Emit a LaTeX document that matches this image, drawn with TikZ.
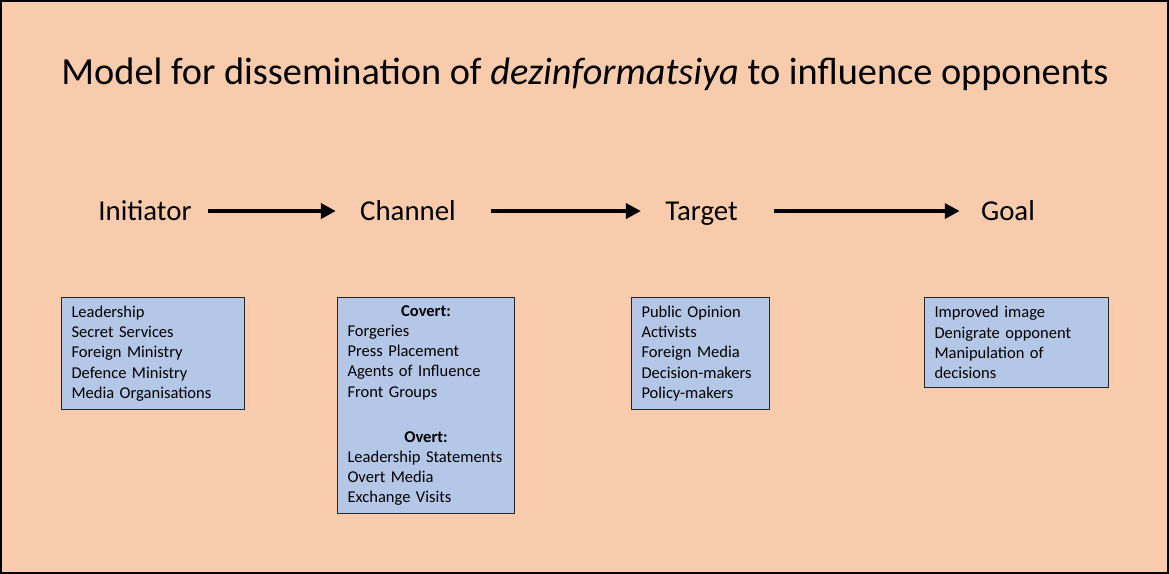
\documentclass[tikz,border=0pt]{standalone}
\usepackage{fontspec}
\setmainfont{Carlito}
\usetikzlibrary{arrows.meta}

\definecolor{slidebg}{HTML}{F8CBAD}
\definecolor{boxblue}{HTML}{B4C7E7}

\begin{document}
\begin{tikzpicture}[x=0.02cm,y=-0.02cm,
    stage/.style={font=\fontsize{16.4}{19}\selectfont, inner sep=0pt,
      text height=10.2pt, text depth=0pt, anchor=base},
    flow/.style={-{Triangle[length=8.5pt,width=8.5pt]}, line width=2.6pt},
    listbox/.style={draw=black!85, line width=0.6pt, fill=boxblue,
      font=\fontsize{9.4}{11.5}\selectfont, align=left, anchor=north west,
      inner xsep=0.2cm, inner ysep=0pt}
  ]
  % slide background
  \useasboundingbox (0,0) rectangle (1169,574);
  \draw[fill=slidebg, line width=1.2pt] (1,1) rectangle (1168,573);

  \node[font=\fontsize{21.8}{26}\selectfont, anchor=base] (title) at (585,85)
    {Model for dissemination of \textit{dezinformatsiya} to influence opponents};

  % stages
  \node[stage] (initiator) at (145,220) {Initiator};
  \node[stage] (channel) at (408,220) {Channel};
  \node[stage] (target) at (701.5,220) {Target};
  \node[stage] (goal) at (1008,220) {Goal};

  \draw[flow, shorten <=9.1pt, shorten >=13.7pt] (initiator) -- (channel);
  \draw[flow, shorten <=19.9pt, shorten >=13.7pt] (channel) -- (target);
  \draw[flow, shorten <=20.5pt, shorten >=12pt] (target) -- (goal);

  % lists
  \node[listbox, text width=3.26cm, minimum height=2.24cm] (initlist) at (61,297)
    {Leadership\\Secret Services\\Foreign Ministry\\Defence Ministry\\Media Organisations};
  \node[listbox, text width=3.14cm, minimum height=4.32cm] (chanlist) at (337,297)
    {\hfill\textbf{Covert:}\hfill\null\\Forgeries\\Press Placement\\Agents of Influence\\Front Groups\\[14pt]
     \hfill\textbf{Overt:}\hfill\null\\Leadership Statements\\Overt Media\\Exchange Visits};
  \node[listbox, text width=2.36cm, minimum height=2.24cm] (targlist) at (631,297)
    {Public Opinion\\Activists\\Foreign Media\\Decision-makers\\Policy-makers};
  \node[listbox, text width=3.28cm, minimum height=1.8cm] (goallist) at (924,297)
    {Improved image\\Denigrate opponent\\Manipulation of\\decisions};
\end{tikzpicture}
\end{document}
